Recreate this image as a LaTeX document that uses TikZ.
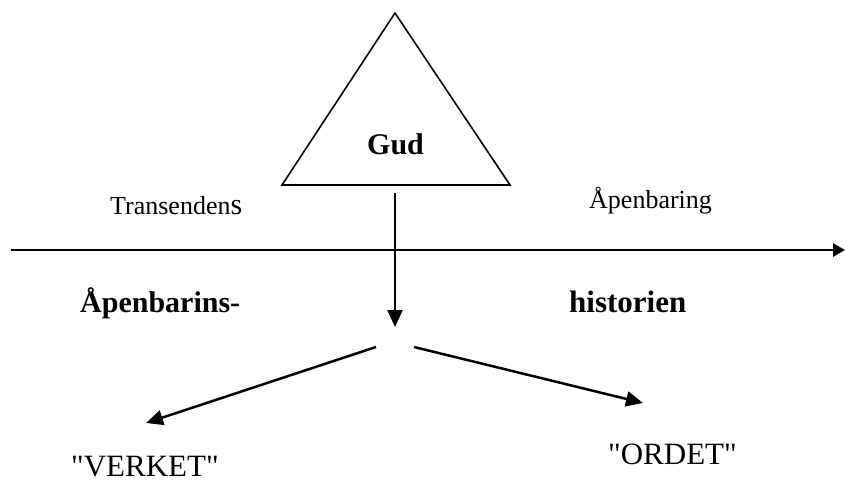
\documentclass[tikz,border=0pt]{standalone}
\usepackage{fontspec}
\setmainfont{Liberation Serif}[Ligatures=TeXOff]
\usetikzlibrary{arrows.meta}
\begin{document}
\begin{tikzpicture}[x=1pt,y=-1pt,
  lbl/.style={inner sep=0pt,anchor=base west},
  conn/.style={line width=2.5pt,-{Triangle[length=17pt,width=15pt]}},
  axis/.style={line width=2.8pt,-{Triangle[length=12pt,width=13pt]}}]
\useasboundingbox (0,0) rectangle (845,483);
% triangle
\coordinate (apex) at (395,13);
\coordinate (bl) at (282,185);
\coordinate (br) at (510,185);
\draw[line width=1.6pt,line join=miter] (apex) -- (bl) -- (br) -- cycle;
\node[lbl,font=\fontsize{30}{36}\selectfont\bfseries] (gud) at (367,154) {Gud};
% time axis
\coordinate (axs) at (11,250);
\coordinate (axe) at (845,250);
\draw[axis] (axs) -- (axe);
% labels
\node[lbl,font=\fontsize{26}{30}\selectfont] (trans) at (110,214) {Transenden{\fontsize{30}{30}\selectfont s}};
\node[lbl,font=\fontsize{26}{30}\selectfont] (apenb) at (589,208) {Åpenbaring};
\node[lbl,font=\fontsize{30}{36}\selectfont\bfseries] (apenh) at (80,312) {Åpenbarins-};
\node[lbl,font=\fontsize{31}{36}\selectfont\bfseries] (hist) at (569,312) {historien};
\node[lbl,font=\fontsize{31}{36}\selectfont] (verket) at (71,476) {"VERKET"};
\node[lbl,font=\fontsize{31}{36}\selectfont] (ordet) at (608,464) {"ORDET"};
% arrows
\coordinate (vs) at (395,193);
\coordinate (split) at (395,327);
\draw[conn] (vs) -- (split);
\coordinate (ls) at (376,347);
\coordinate (lt) at (146,423);
\coordinate (rs) at (414,347);
\coordinate (rt) at (643,403);
\draw[conn] (ls) -- (lt);
\draw[conn] (rs) -- (rt);
\end{tikzpicture}
\end{document}
